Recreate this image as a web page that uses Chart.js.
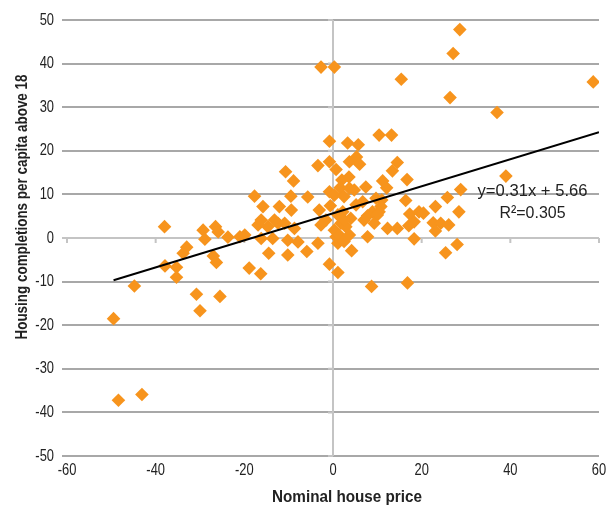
<!DOCTYPE html>
<html>
<head>
<meta charset="utf-8">
<script src="https://cdn.jsdelivr.net/npm/chart.js@4/dist/chart.umd.min.js"></script>
<style>
  body { margin: 0; background: #fff; }
  canvas { display: block; }
</style>
</head>
<body>
<canvas id="chart" width="610" height="510"></canvas>
<script>
// house price growth (x) vs housing completions (y)
var priceGrowth = [
  -49.5, -48.4, -43.1, -44.8, -38.0, -37.9, -35.3, -35.3, -33.0, -33.8,
  -30.8, -30.0, -29.3, -28.9, -26.5, -25.9, -27.0, -26.3, -25.5, -23.7,
  -21.0, -19.9, -18.9, -17.7, -15.8, -16.3, -16.9, -16.2, -14.7, -13.2,
  -12.4, -10.9, -16.2, -13.6, -14.5, -10.2, -10.2, -7.9, -8.7, -12.1,
  -9.4, -9.5, -10.7, -8.9, -5.7, -3.4, -0.8, 0.7, 3.7, 5.3,
  6.0, -0.8, 3.3, 5.7, 10.4, 13.2, 14.5, 13.4, 16.7, 11.2,
  12.1, 7.4, 2.0, 3.6, 1.6, 3.7, 4.8, -0.8, 0.3, 2.5,
  -3.1, -0.6, 2.2, 6.7, 5.2, 9.7, 11.0, 10.8, 8.9, 10.4,
  7.8, 7.0, 10.0, 9.3, 16.4, 17.3, 19.4, 18.3, 17.1, 12.3,
  14.5, 18.3, 7.8, 4.2, 1.1, 0.7, -3.4, -2.7, -1.6, 1.8,
  2.9, 4.0, -5.9, -0.8, 1.1, 8.7, 16.8, 0.3, 1.4, 2.5,
  3.7, 1.1, 2.5, 20.4, 23.1, 22.6, 24.3, 26.1, 23.1, 25.8,
  28.8, 28.4, 28.0, 25.4, 39.0, 28.6, 27.1, 15.4, 26.4, 37.0,
  58.7, -2.7, 0.3
]
var completions = [
  -18.5, -37.2, -35.9, -11.0, 2.6, -6.4, -6.7, -9.0, -2.1, -3.5,
  -12.9, -16.7, 1.8, -0.3, 2.6, 1.4, -4.1, -5.6, -13.4, 0.2,
  0.3, 0.7, -6.9, 9.6, 7.2, -8.2, 3.0, 4.1, 2.6, 4.1,
  3.4, 3.4, -0.1, -0.1, -3.5, -3.9, -0.5, -0.9, 2.2, 7.2,
  6.4, 9.6, 15.2, 13.1, 9.4, 16.6, 17.5, 15.7, 17.5, 18.6,
  16.9, 22.2, 21.8, 21.4, 23.6, 23.6, 17.3, 15.4, 13.4, 13.1,
  11.5, 11.7, 13.3, 14.0, 11.5, 11.4, 11.0, 10.6, 9.8, 9.5,
  6.4, 7.4, 6.0, 8.3, 7.6, 9.1, 8.7, 7.2, 6.0, 6.0,
  5.1, 4.1, 5.3, 3.4, 8.6, 5.5, 6.0, 3.7, 2.8, 2.2,
  2.2, -0.2, 0.3, -2.9, -1.2, 0.3, -1.2, 3.0, 4.1, 3.4,
  2.6, 4.5, -3.1, -6.0, -7.9, -11.1, -10.3, 1.8, 0.7, -0.8,
  0.7, 5.3, 4.1, 5.7, 7.2, 3.5, 3.4, 3.0, 1.6, 9.3,
  11.1, 6.0, -1.5, -3.4, 14.2, 47.8, 42.3, 36.4, 32.2, 28.8,
  35.8, 39.2, 39.2
]

// linear trend as printed on the chart
var trendSlope = 0.31
var trendIntercept = 5.66
var trendRange = [-49.5, 60]
var trendLabel = 'y=0.31x + 5.66'
var r2Label = 'R\u00b2=0.305'

var xTicks = [-60, -40, -20, 0, 20, 40, 60]
var yTicks = [-50, -40, -30, -20, -10, 0, 10, 20, 30, 40, 50]
var xTitle = 'Nominal house price'
var yTitle = 'Housing completions per capita above 18'

var face = "'Liberation Sans', Arial, sans-serif"
var squeeze = 0.76 // the original uses a narrow typeface

var points = priceGrowth.map((x, i) => ({ x: x, y: completions[i] }))
var trend = trendRange.map((x) => ({ x: x, y: trendSlope * x + trendIntercept }))

// narrow text: draw with a horizontal squeeze
function narrowText(ctx, text, x, y, align, font, sx) {
  ctx.save()
  ctx.font = font
  ctx.textAlign = align
  ctx.textBaseline = 'middle'
  ctx.translate(x, y)
  ctx.scale(sx, 1)
  ctx.fillText(text, 0, 0)
  ctx.restore()
}

// squeeze so the text fills a given width
function fitText(ctx, text, x, y, font, width, rotate) {
  ctx.save()
  ctx.font = font
  var sx = width / ctx.measureText(text).width
  ctx.textAlign = 'center'
  ctx.textBaseline = 'middle'
  ctx.translate(x, y)
  if (rotate) ctx.rotate(-Math.PI / 2)
  ctx.scale(sx, 1)
  ctx.fillText(text, 0, 0)
  ctx.restore()
}

// axes crossing at zero, tick labels, equation text and axis titles
var extras = {
  id: 'extras',
  beforeDatasetsDraw(chart) {
    var ctx = chart.ctx
    var area = chart.chartArea
    var xs = chart.scales.x, ys = chart.scales.y
    var x0 = xs.getPixelForValue(0), y0 = ys.getPixelForValue(0)
    ctx.save()
    ctx.strokeStyle = '#c4c4c4'
    ctx.lineWidth = 2
    ctx.beginPath()
    ctx.moveTo(x0, area.top)
    ctx.lineTo(x0, area.bottom)
    yTicks.forEach((v) => {
      var py = ys.getPixelForValue(v)
      ctx.moveTo(x0 - 5, py)
      ctx.lineTo(x0, py)
    })
    xTicks.forEach((v) => {
      var px = xs.getPixelForValue(v)
      ctx.moveTo(px, y0)
      ctx.lineTo(px, y0 + 5)
    })
    ctx.stroke()
    ctx.restore()
  },
  afterDraw(chart) {
    var ctx = chart.ctx
    var xs = chart.scales.x, ys = chart.scales.y
    ctx.save()
    ctx.fillStyle = '#222'
    var tickFont = '17px ' + face
    yTicks.forEach((v) => {
      narrowText(ctx, String(v), 54, ys.getPixelForValue(v), 'right', tickFont, squeeze)
    })
    xTicks.forEach((v) => {
      narrowText(ctx, String(v), xs.getPixelForValue(v), 470, 'center', tickFont, squeeze)
    })

    var ex = xs.getPixelForValue(45)
    fitText(ctx, trendLabel, ex, ys.getPixelForValue(10.6), '17px ' + face, 110, false)
    fitText(ctx, r2Label, ex, ys.getPixelForValue(5.6), '17px ' + face, 66, false)

    fitText(ctx, xTitle, 347, 497, 'bold 17px ' + face, 150, false)
    fitText(ctx, yTitle, 22, 207, 'bold 17px ' + face, 265, true)
    ctx.restore()
  }
}

new Chart(document.getElementById('chart'), {
  type: 'scatter',
  data: {
    datasets: [
      {
        type: 'line',
        label: 'Trend',
        data: trend,
        borderColor: '#000',
        borderWidth: 2,
        pointRadius: 0,
        fill: false,
        order: 0,
      },
      {
        label: 'Countries',
        data: points,
        pointStyle: 'rectRot',
        pointRadius: 6.8,
        pointHoverRadius: 6.8,
        backgroundColor: '#f7941d',
        borderWidth: 0,
        order: 1,
      },
    ],
  },
  options: {
    responsive: false,
    animation: false,
    layout: { padding: { top: 20, right: 11, left: 0, bottom: 0 } },
    plugins: {
      legend: { display: false },
      tooltip: { enabled: false },
    },
    scales: {
      x: {
        type: 'linear',
        min: -60,
        max: 60,
        afterBuildTicks: (scale) => { scale.ticks = xTicks.map((v) => ({ value: v })) },
        afterFit: (scale) => { scale.height = 54 },
        grid: { display: false },
        border: { display: false },
        ticks: { display: false },
      },
      y: {
        type: 'linear',
        min: -50,
        max: 50,
        afterBuildTicks: (scale) => { scale.ticks = yTicks.map((v) => ({ value: v })) },
        afterFit: (scale) => { scale.width = 67 },
        grid: {
          color: (c) => (c.tick && c.tick.value === 0 ? '#c4c4c4' : '#a8a8a8'),
          lineWidth: 2,
          tickLength: 5,
        },
        border: { display: false },
        ticks: { display: false },
      },
    },
  },
  plugins: [extras],
})
</script>
</body>
</html>
